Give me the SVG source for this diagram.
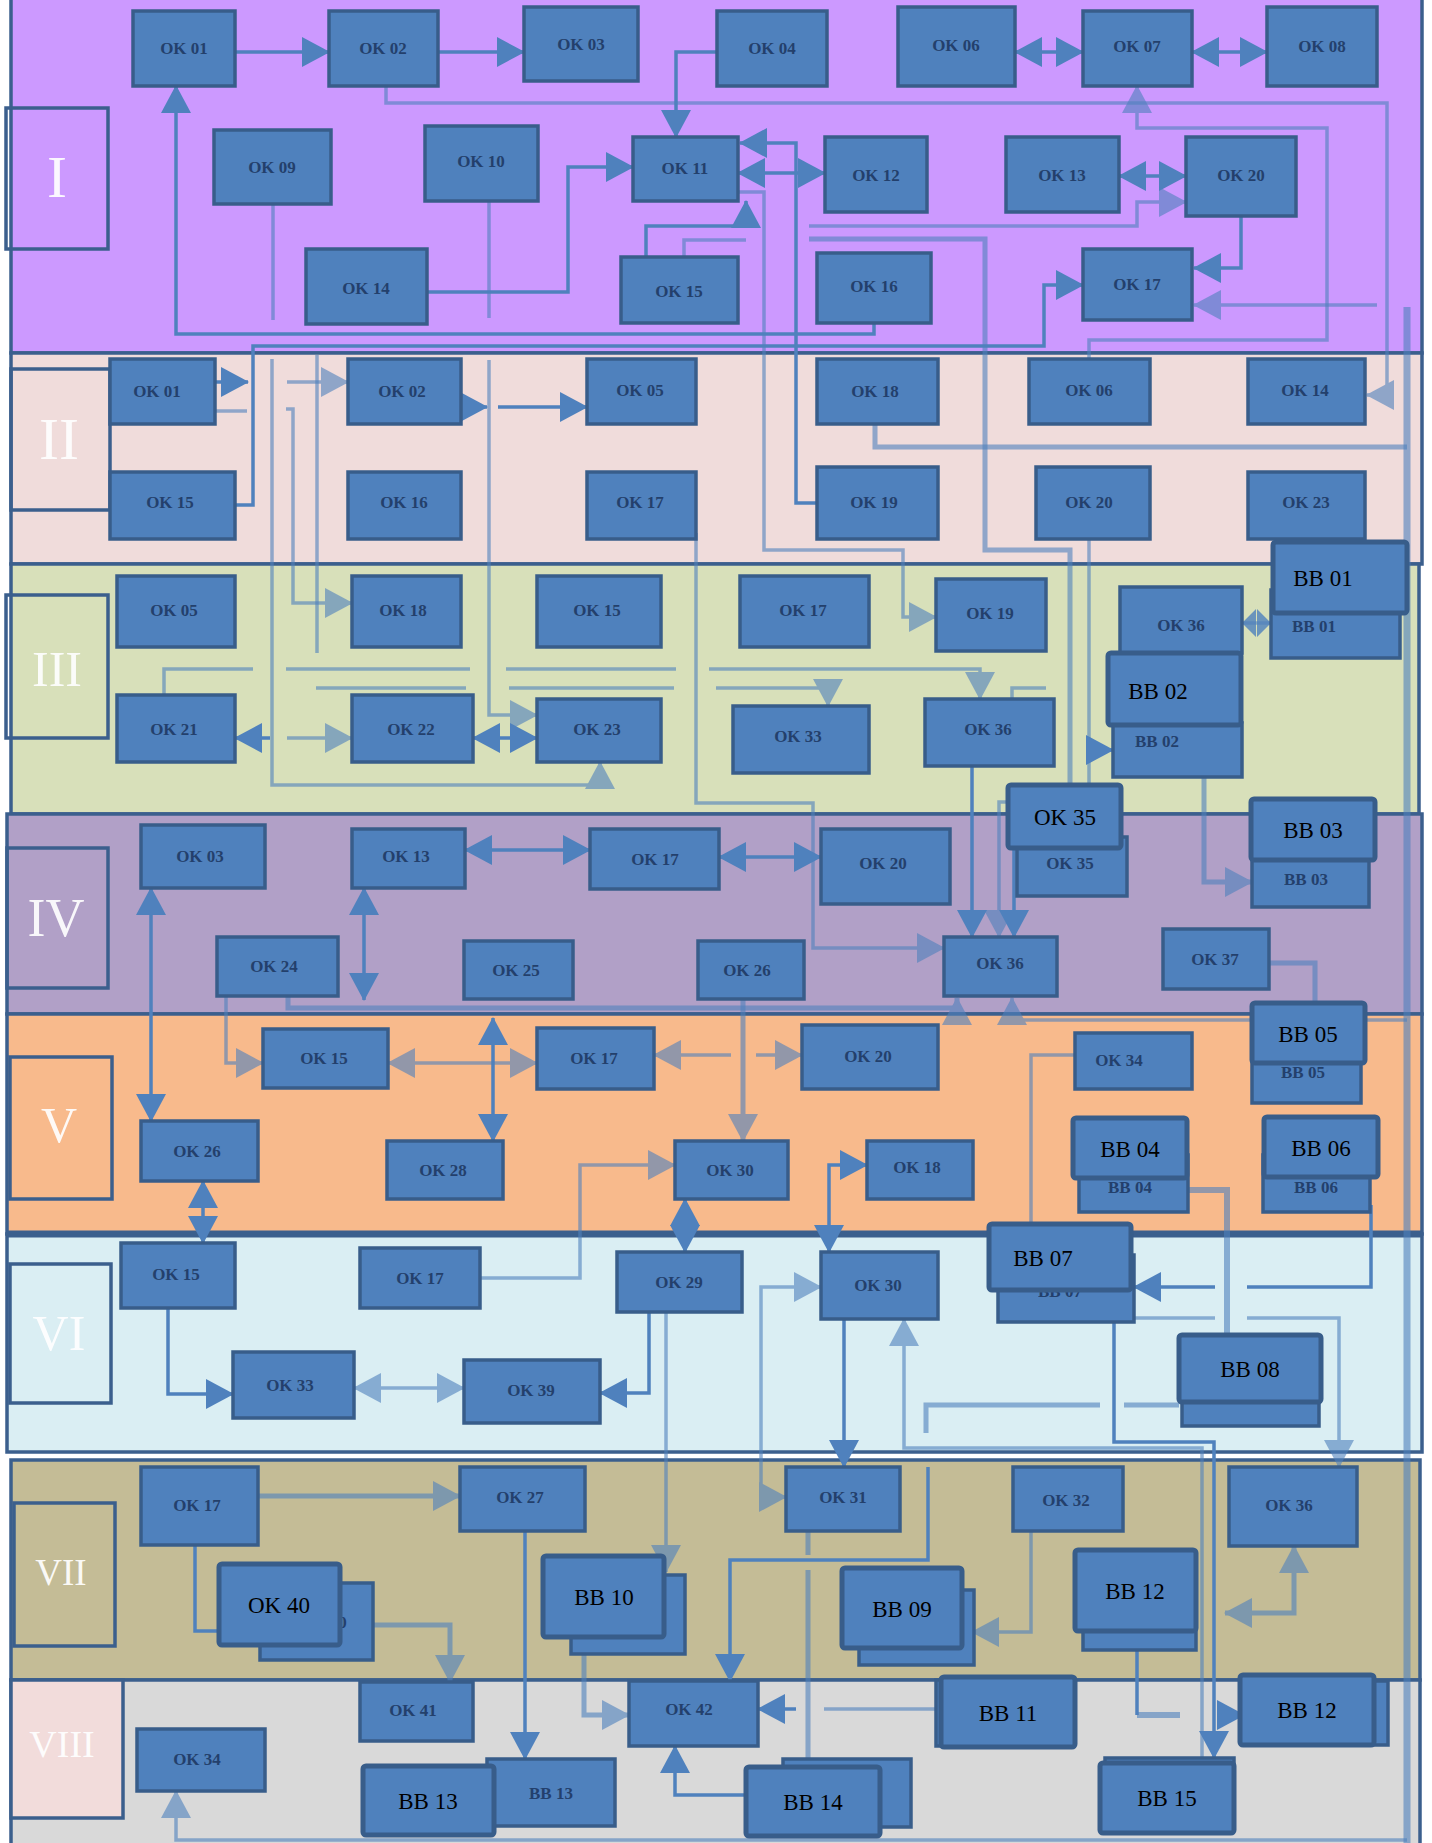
<svg xmlns="http://www.w3.org/2000/svg" width="1432" height="1843" viewBox="0 0 1432 1843">
<style>
.band{stroke:#3B5F8D;stroke-width:3.5}
.lb{fill:none;stroke:#3B5F8D;stroke-width:3.5}
.L{font-family:"Liberation Serif",serif;fill:#fff;text-anchor:middle;dominant-baseline:central;opacity:.92}
.n{fill:#4F81BD;stroke:#385D8A;stroke-width:3.5}
.b{fill:#4F81BD;stroke:#385D8A;stroke-width:5}
.t{font-family:"Liberation Serif",serif;font-size:17px;font-weight:bold;fill:#1C355E;text-anchor:middle;dominant-baseline:central;opacity:.85}
.T{font-family:"Liberation Serif",serif;font-size:23px;fill:#000;text-anchor:middle;dominant-baseline:central}
.c{fill:none;stroke:#4F81BD;stroke-width:3.5}
.l{opacity:.6}
.e{marker-end:url(#ah)}
.s{marker-start:url(#ah)}
</style>
<defs>
<marker id="ah" viewBox="0 0 28 30" refX="27" refY="15" markerWidth="28" markerHeight="30" markerUnits="userSpaceOnUse" orient="auto-start-reverse"><path d="M0,0 L28,15 L0,30 z" fill="#4F81BD"/></marker>
</defs>
<rect width="1432" height="1843" fill="#fff"/>
<g id="bands">
<rect class="band" x="11" y="-4" width="1411" height="357" fill="#CC99FF"/>
<rect class="band" x="11" y="353" width="1411" height="211" fill="#F0DCDB"/>
<rect class="band" x="11" y="564" width="1408" height="250" fill="#D8E0BA"/>
<rect class="band" x="7" y="814" width="1415" height="200" fill="#B1A0C7"/>
<rect class="band" x="7" y="1014" width="1415" height="220" fill="#F8BA8C"/>
<rect class="band" x="7" y="1234" width="1415" height="218" fill="#DAEEF3"/>
<line x1="7" y1="1234" x2="1422" y2="1234" stroke="#3B5F8D" stroke-width="7"/>
<rect class="band" x="11" y="1460" width="1409" height="220" fill="#C4BC96"/>
<rect class="band" x="11" y="1680" width="1409" height="170" fill="#D9D9D9"/>
<rect class="lb" x="6" y="108" width="102" height="141"/>
<rect class="lb" x="11" y="369" width="99" height="141"/>
<rect class="lb" x="6" y="595" width="102" height="143"/>
<rect class="lb" x="7" y="848" width="101" height="140"/>
<rect class="lb" x="10" y="1057" width="102" height="142"/>
<rect class="lb" x="10" y="1264" width="101" height="139"/>
<rect class="lb" x="14" y="1503" width="101" height="143"/>
<rect class="lb" x="11" y="1680" width="112" height="138" style="fill:#F2DCDB"/>
<text class="L" x="57" y="177" font-size="60">I</text>
<text class="L" x="59" y="439" font-size="60">II</text>
<text class="L" x="57" y="669" font-size="50">III</text>
<text class="L" x="56" y="918" font-size="54">IV</text>
<text class="L" x="59" y="1125" font-size="50">V</text>
<text class="L" x="59" y="1333" font-size="50">VI</text>
<text class="L" x="61" y="1572" font-size="37">VII</text>
<text class="L" x="62" y="1744" font-size="38">VIII</text>
</g>
<g id="connectors">
<path class="c e" d="M235,52 H329"/>
<path class="c e" d="M438,52 H524"/>
<path class="c e" d="M717,52 H676 V137"/>
<path class="c l e" d="M386,86 V103 H1387 V395 H1367"/>
<path class="c s e" d="M1015,52 H1083"/>
<path class="c s e" d="M1192,52 H1267"/>
<path class="c l e" d="M1089,359 V340 H1327 V128 H1137 V86"/>
<path class="c s e" d="M738,173 H825"/>
<path class="c e" d="M817,503 H796 V143 H740"/>
<path class="c e" d="M646,257 V226 H746 V201"/>
<path class="c l" d="M684,257 V240 H746"/>
<path class="c l e" d="M739,192 H764 V550 H903 V617 H936"/>
<path class="c e" d="M427,292 H568 V167 H633"/>
<path class="c l" d="M489,201 V318"/>
<path class="c l e" d="M489,360 V715 H537"/>
<path class="c l" d="M273,204 V320"/>
<path class="c s e" d="M1119,176 H1186"/>
<path class="c l e" d="M809,226 H1137 V202 H1186"/>
<path class="c l" d="M809,239 H985 V550 H1070 V785" style="stroke-width:5"/>
<path class="c e" d="M1241,216 V268 H1194"/>
<path class="c l e" d="M1377,305 H1194"/>
<path class="c e" d="M235,505 H253 V346 H1044 V285 H1083"/>
<path class="c e" d="M874,323 V334 H176 V86"/>
<path class="c l e" d="M272,359 V785 H600 V762"/>
<path class="c l e" d="M286,409 H293 V603 H352"/>
<path class="c l" d="M317,355 V653"/>
<path class="c l e" d="M287,382 H348"/>
<path class="c e" d="M215,382 H248"/>
<path class="c l" d="M215,411 H247"/>
<path class="c e" d="M461,407 H487"/>
<path class="c e" d="M498,407 H587"/>
<path class="c l" d="M875,424 V447 H1407" style="stroke-width:5"/>
<path class="c l e" d="M696,533 V803 H813 V948 H944"/>
<path class="c l" d="M1089,539 V785"/>
<path class="c e" d="M1089,750 H1113"/>
<path class="c l" d="M164,695 V669 H253 M286,669 H470 M506,669 H676"/>
<path class="c l e" d="M709,669 H980 V699"/>
<path class="c l" d="M316,688 H466 M509,688 H674"/>
<path class="c l e" d="M716,688 H828 V706"/>
<path class="c l" d="M1012,699 V688 H1046"/>
<path class="c l e" d="M287,738 H352"/>
<path class="c e" d="M270,738 H235"/>
<path class="c s e" d="M473,738 H537"/>
<path class="c l" d="M1242,623 H1271"/>
<path fill="#4F81BD" opacity=".8" d="M1242,623 L1256,609 L1256,637 Z M1271,623 L1257,609 L1257,637 Z"/>
<path class="c e" d="M972,766 V937"/>
<path class="c l e" d="M1008,802 H999 V937"/>
<path class="c e" d="M1014,848 V937"/>
<path class="c l e" d="M1204,777 V882 H1252" style="stroke-width:5"/>
<path class="c s e" d="M151,888 V1121"/>
<path class="c s e" d="M364,888 V1000"/>
<path class="c s e" d="M465,850 H590"/>
<path class="c s e" d="M719,857 H821"/>
<path class="c l e" d="M226,996 V1063 H263"/>
<path class="c l e" d="M288,996 V1008 H957 V998" style="stroke-width:5"/>
<path class="c l e" d="M1407,1020 H1012 V998"/>
<path class="c l" d="M1269,963 H1315 V1003" style="stroke-width:5"/>
<path class="c s e" d="M493,1018 V1141"/>
<path class="c l s e" d="M388,1063 H537"/>
<path class="c l e" d="M731,1055 H654"/>
<path class="c l e" d="M756,1055 H802"/>
<path class="c l e" d="M743,999 V1141" style="stroke-width:5"/>
<path class="c l e" d="M480,1278 H580 V1165 H675"/>
<path class="c s e" d="M685,1199 V1252"/>
<path class="c s e" d="M829,1252 V1165 H867"/>
<path class="c l" d="M1075,1055 H1031 V1224"/>
<path class="c l" d="M1188,1190 H1227 V1335" style="stroke-width:6"/>
<path class="c" d="M1371,1205 V1287 H1247"/>
<path class="c e" d="M1215,1287 H1134"/>
<path class="c l" d="M1134,1318 H1215"/>
<path class="c l e" d="M1247,1318 H1339 V1467"/>
<path class="c e" d="M1114,1322 V1442 H1214 V1758"/>
<path class="c l e" d="M1202,1758 V1448 H904 V1319"/>
<path class="c l" d="M926,1433 V1405 H1100 M1124,1405 H1179" style="stroke-width:5"/>
<path class="c e" d="M168,1308 V1394 H233"/>
<path class="c s e" d="M203,1181 V1243"/>
<path class="c l s e" d="M354,1388 H464"/>
<path class="c e" d="M649,1312 V1393 H600"/>
<path class="c l e" d="M666,1312 V1572"/>
<path class="c e" d="M844,1319 V1467"/>
<path class="c l s e" d="M786,1497 H761 V1287 H821"/>
<path class="c l" d="M808,1531 V1555 M808,1570 V1759" style="stroke-width:5"/>
<path class="c e" d="M928,1467 V1560 H730 V1681"/>
<path class="c l e" d="M258,1496 H460" style="stroke-width:5"/>
<path class="c" d="M195,1545 V1631 H219"/>
<path class="c l e" d="M373,1625 H450 V1682" style="stroke-width:5"/>
<path class="c e" d="M525,1531 V1759"/>
<path class="c l e" d="M584,1654 V1715 H629" style="stroke-width:5"/>
<path class="c e" d="M796,1709 H758"/>
<path class="c l" d="M824,1709 H938"/>
<path class="c e" d="M746,1795 H675 V1746"/>
<path class="c l e" d="M1031,1531 V1632 H972"/>
<path class="c l s e" d="M1294,1546 V1613 H1225" style="stroke-width:5"/>
<path class="c" d="M1137,1650 V1715"/>
<path class="c l" d="M1137,1715 H1180" style="stroke-width:6"/>
<path class="c e" d="M1222,1715 H1244"/>
<path class="c l" d="M1407,307 V1843" style="stroke-width:7"/>
<path class="c l e" d="M1407,1840 H176 V1791"/>
</g>
<g id="n-I-ok01"><rect class="n" x="133" y="11" width="102" height="75"/><text class="t" x="184" y="48">OK 01</text></g>
<g id="n-I-ok02"><rect class="n" x="329" y="11" width="109" height="75"/><text class="t" x="383" y="48">OK 02</text></g>
<g id="n-I-ok03"><rect class="n" x="524" y="7" width="114" height="74"/><text class="t" x="581" y="44">OK 03</text></g>
<g id="n-I-ok04"><rect class="n" x="717" y="11" width="110" height="75"/><text class="t" x="772" y="48">OK 04</text></g>
<g id="n-I-ok06"><rect class="n" x="898" y="7" width="117" height="79"/><text class="t" x="956" y="45">OK 06</text></g>
<g id="n-I-ok07"><rect class="n" x="1083" y="11" width="109" height="75"/><text class="t" x="1137" y="46">OK 07</text></g>
<g id="n-I-ok08"><rect class="n" x="1267" y="7" width="110" height="79"/><text class="t" x="1322" y="46">OK 08</text></g>
<g id="n-I-ok09"><rect class="n" x="214" y="130" width="117" height="74"/><text class="t" x="272" y="167">OK 09</text></g>
<g id="n-I-ok10"><rect class="n" x="425" y="126" width="113" height="75"/><text class="t" x="481" y="161">OK 10</text></g>
<g id="n-I-ok11"><rect class="n" x="633" y="137" width="105" height="64"/><text class="t" x="685" y="168">OK 11</text></g>
<g id="n-I-ok12"><rect class="n" x="825" y="137" width="102" height="75"/><text class="t" x="876" y="175">OK 12</text></g>
<g id="n-I-ok13"><rect class="n" x="1006" y="137" width="113" height="75"/><text class="t" x="1062" y="175">OK 13</text></g>
<g id="n-I-ok20"><rect class="n" x="1186" y="137" width="110" height="79"/><text class="t" x="1241" y="175">OK 20</text></g>
<g id="n-I-ok14"><rect class="n" x="306" y="249" width="121" height="75"/><text class="t" x="366" y="288">OK 14</text></g>
<g id="n-I-ok15"><rect class="n" x="621" y="257" width="117" height="66"/><text class="t" x="679" y="291">OK 15</text></g>
<g id="n-I-ok16"><rect class="n" x="817" y="253" width="114" height="70"/><text class="t" x="874" y="286">OK 16</text></g>
<g id="n-I-ok17"><rect class="n" x="1083" y="249" width="109" height="71"/><text class="t" x="1137" y="284">OK 17</text></g>
<g id="n-II-ok01"><rect class="n" x="110" y="359" width="105" height="65"/><text class="t" x="157" y="391">OK 01</text></g>
<g id="n-II-ok02"><rect class="n" x="348" y="359" width="113" height="65"/><text class="t" x="402" y="391">OK 02</text></g>
<g id="n-II-ok05"><rect class="n" x="587" y="359" width="109" height="65"/><text class="t" x="640" y="390">OK 05</text></g>
<g id="n-II-ok18"><rect class="n" x="817" y="359" width="121" height="65"/><text class="t" x="875" y="391">OK 18</text></g>
<g id="n-II-ok06"><rect class="n" x="1029" y="359" width="121" height="65"/><text class="t" x="1089" y="390">OK 06</text></g>
<g id="n-II-ok14"><rect class="n" x="1248" y="359" width="117" height="65"/><text class="t" x="1305" y="390">OK 14</text></g>
<g id="n-II-ok15"><rect class="n" x="110" y="472" width="125" height="67"/><text class="t" x="170" y="502">OK 15</text></g>
<g id="n-II-ok16"><rect class="n" x="348" y="472" width="113" height="67"/><text class="t" x="404" y="502">OK 16</text></g>
<g id="n-II-ok17"><rect class="n" x="587" y="472" width="109" height="67"/><text class="t" x="640" y="502">OK 17</text></g>
<g id="n-II-ok19"><rect class="n" x="817" y="467" width="121" height="72"/><text class="t" x="874" y="502">OK 19</text></g>
<g id="n-II-ok20"><rect class="n" x="1036" y="467" width="114" height="72"/><text class="t" x="1089" y="502">OK 20</text></g>
<g id="n-II-ok23"><rect class="n" x="1248" y="472" width="117" height="67"/><text class="t" x="1306" y="502">OK 23</text></g>
<g id="n-III-ok05"><rect class="n" x="117" y="576" width="118" height="71"/><text class="t" x="174" y="610">OK 05</text></g>
<g id="n-III-ok18"><rect class="n" x="352" y="576" width="109" height="71"/><text class="t" x="403" y="610">OK 18</text></g>
<g id="n-III-ok15"><rect class="n" x="537" y="576" width="124" height="71"/><text class="t" x="597" y="610">OK 15</text></g>
<g id="n-III-ok17"><rect class="n" x="740" y="576" width="129" height="71"/><text class="t" x="803" y="610">OK 17</text></g>
<g id="n-III-ok19"><rect class="n" x="936" y="579" width="110" height="72"/><text class="t" x="990" y="613">OK 19</text></g>
<g id="n-III-ok36b"><rect class="n" x="1120" y="587" width="122" height="66"/><text class="t" x="1181" y="625">OK 36</text></g>
<g id="n-III-bb01"><rect class="n" x="1271" y="590" width="129" height="68"/><text class="t" x="1314" y="626">BB 01</text><rect class="b" x="1273" y="542" width="134" height="71" rx="3"/><text class="T" x="1323" y="578">BB 01</text></g>
<g id="n-III-ok21"><rect class="n" x="117" y="695" width="118" height="67"/><text class="t" x="174" y="729">OK 21</text></g>
<g id="n-III-ok22"><rect class="n" x="352" y="695" width="121" height="67"/><text class="t" x="411" y="729">OK 22</text></g>
<g id="n-III-ok23"><rect class="n" x="537" y="699" width="124" height="63"/><text class="t" x="597" y="729">OK 23</text></g>
<g id="n-III-ok33"><rect class="n" x="733" y="706" width="136" height="67"/><text class="t" x="798" y="736">OK 33</text></g>
<g id="n-III-ok36"><rect class="n" x="925" y="699" width="129" height="67"/><text class="t" x="988" y="729">OK 36</text></g>
<g id="n-III-bb02"><rect class="n" x="1113" y="723" width="129" height="54"/><text class="t" x="1157" y="741">BB 02</text><rect class="b" x="1108" y="653" width="133" height="72" rx="3"/><text class="T" x="1158" y="691">BB 02</text></g>
<g id="n-IV-ok35"><rect class="n" x="1017" y="837" width="110" height="59"/><text class="t" x="1070" y="863">OK 35</text><rect class="b" x="1008" y="785" width="113" height="63" rx="3"/><text class="T" x="1065" y="817">OK 35</text></g>
<g id="n-IV-bb03"><rect class="n" x="1252" y="860" width="117" height="47"/><text class="t" x="1306" y="879">BB 03</text><rect class="b" x="1251" y="799" width="124" height="61" rx="3"/><text class="T" x="1313" y="830">BB 03</text></g>
<g id="n-IV-ok03"><rect class="n" x="141" y="825" width="124" height="63"/><text class="t" x="200" y="856">OK 03</text></g>
<g id="n-IV-ok13"><rect class="n" x="352" y="829" width="113" height="59"/><text class="t" x="406" y="856">OK 13</text></g>
<g id="n-IV-ok17"><rect class="n" x="590" y="829" width="129" height="60"/><text class="t" x="655" y="859">OK 17</text></g>
<g id="n-IV-ok20"><rect class="n" x="821" y="829" width="129" height="75"/><text class="t" x="883" y="863">OK 20</text></g>
<g id="n-IV-ok24"><rect class="n" x="217" y="937" width="121" height="59"/><text class="t" x="274" y="966">OK 24</text></g>
<g id="n-IV-ok25"><rect class="n" x="464" y="941" width="109" height="58"/><text class="t" x="516" y="970">OK 25</text></g>
<g id="n-IV-ok26"><rect class="n" x="698" y="941" width="106" height="58"/><text class="t" x="747" y="970">OK 26</text></g>
<g id="n-IV-ok36"><rect class="n" x="944" y="937" width="113" height="59"/><text class="t" x="1000" y="963">OK 36</text></g>
<g id="n-IV-ok37"><rect class="n" x="1163" y="929" width="106" height="60"/><text class="t" x="1215" y="959">OK 37</text></g>
<g id="n-IV-bb05"><rect class="n" x="1252" y="1040" width="109" height="63"/><text class="t" x="1303" y="1072">BB 05</text><rect class="b" x="1252" y="1003" width="113" height="60" rx="3"/><text class="T" x="1308" y="1034">BB 05</text></g>
<g id="n-V-ok15"><rect class="n" x="263" y="1029" width="125" height="59"/><text class="t" x="324" y="1058">OK 15</text></g>
<g id="n-V-ok17"><rect class="n" x="537" y="1028" width="117" height="61"/><text class="t" x="594" y="1058">OK 17</text></g>
<g id="n-V-ok20"><rect class="n" x="802" y="1025" width="136" height="64"/><text class="t" x="868" y="1056">OK 20</text></g>
<g id="n-V-ok34"><rect class="n" x="1075" y="1033" width="117" height="56"/><text class="t" x="1119" y="1060">OK 34</text></g>
<g id="n-V-ok26"><rect class="n" x="141" y="1121" width="117" height="60"/><text class="t" x="197" y="1151">OK 26</text></g>
<g id="n-V-ok28"><rect class="n" x="387" y="1141" width="116" height="58"/><text class="t" x="443" y="1170">OK 28</text></g>
<g id="n-V-ok30"><rect class="n" x="675" y="1141" width="113" height="58"/><text class="t" x="730" y="1170">OK 30</text></g>
<g id="n-V-ok18"><rect class="n" x="867" y="1141" width="106" height="58"/><text class="t" x="917" y="1167">OK 18</text></g>
<g id="n-V-bb04"><rect class="n" x="1079" y="1155" width="109" height="57"/><text class="t" x="1130" y="1187">BB 04</text><rect class="b" x="1073" y="1118" width="114" height="60" rx="3"/><text class="T" x="1130" y="1149">BB 04</text></g>
<g id="n-V-bb06"><rect class="n" x="1263" y="1155" width="107" height="57"/><text class="t" x="1316" y="1187">BB 06</text><rect class="b" x="1264" y="1117" width="114" height="60" rx="3"/><text class="T" x="1321" y="1148">BB 06</text></g>
<g id="n-VI-ok15"><rect class="n" x="121" y="1243" width="114" height="65"/><text class="t" x="176" y="1274">OK 15</text></g>
<g id="n-VI-ok17"><rect class="n" x="360" y="1248" width="120" height="60"/><text class="t" x="420" y="1278">OK 17</text></g>
<g id="n-VI-ok29"><rect class="n" x="617" y="1252" width="125" height="60"/><text class="t" x="679" y="1282">OK 29</text></g>
<g id="n-VI-ok30"><rect class="n" x="821" y="1252" width="117" height="67"/><text class="t" x="878" y="1285">OK 30</text></g>
<g id="n-VI-bb07"><rect class="n" x="998" y="1255" width="136" height="67"/><text class="t" x="1060" y="1291">BB 07</text><rect class="b" x="989" y="1224" width="142" height="66" rx="3"/><text class="T" x="1043" y="1258">BB 07</text></g>
<g id="n-VI-ok33"><rect class="n" x="233" y="1352" width="121" height="66"/><text class="t" x="290" y="1385">OK 33</text></g>
<g id="n-VI-ok39"><rect class="n" x="464" y="1360" width="136" height="63"/><text class="t" x="531" y="1390">OK 39</text></g>
<g id="n-VI-bb08"><rect class="n" x="1182" y="1370" width="137" height="56"/><rect class="b" x="1179" y="1335" width="142" height="67" rx="3"/><text class="T" x="1250" y="1369">BB 08</text></g>
<g id="n-VII-ok17"><rect class="n" x="141" y="1467" width="117" height="78"/><text class="t" x="197" y="1505">OK 17</text></g>
<g id="n-VII-ok27"><rect class="n" x="460" y="1467" width="125" height="64"/><text class="t" x="520" y="1497">OK 27</text></g>
<g id="n-VII-ok31"><rect class="n" x="786" y="1467" width="114" height="64"/><text class="t" x="843" y="1497">OK 31</text></g>
<g id="n-VII-ok32"><rect class="n" x="1013" y="1467" width="110" height="64"/><text class="t" x="1066" y="1500">OK 32</text></g>
<g id="n-VII-ok36"><rect class="n" x="1229" y="1467" width="128" height="79"/><text class="t" x="1289" y="1505">OK 36</text></g>
<g id="n-VII-ok40"><rect class="n" x="260" y="1583" width="113" height="77"/><text class="t" x="323" y="1622">OK 40</text><rect class="b" x="219" y="1564" width="121" height="81" rx="3"/><text class="T" x="279" y="1605">OK 40</text></g>
<g id="n-VII-bb10"><rect class="n" x="571" y="1575" width="114" height="79"/><rect class="b" x="543" y="1556" width="121" height="81" rx="3"/><text class="T" x="604" y="1597">BB 10</text></g>
<g id="n-VII-bb09"><rect class="n" x="859" y="1590" width="115" height="75"/><rect class="b" x="842" y="1568" width="120" height="80" rx="3"/><text class="T" x="902" y="1609">BB 09</text></g>
<g id="n-VII-bb12"><rect class="n" x="1083" y="1590" width="113" height="60"/><rect class="b" x="1075" y="1550" width="121" height="81" rx="3"/><text class="T" x="1135" y="1591">BB 12</text></g>
<g id="n-VIII-ok41"><rect class="n" x="360" y="1682" width="113" height="59"/><text class="t" x="413" y="1710">OK 41</text></g>
<g id="n-VIII-ok42"><rect class="n" x="629" y="1681" width="129" height="65"/><text class="t" x="689" y="1709">OK 42</text></g>
<g id="n-VIII-ok34"><rect class="n" x="137" y="1729" width="128" height="62"/><text class="t" x="197" y="1759">OK 34</text></g>
<g id="n-VIII-bb11"><rect class="n" x="936" y="1680" width="134" height="66"/><rect class="b" x="941" y="1677" width="134" height="70" rx="3"/><text class="T" x="1008" y="1713">BB 11</text></g>
<g id="n-VIII-bb12"><rect class="n" x="1250" y="1681" width="138" height="64"/><rect class="b" x="1240" y="1675" width="134" height="70" rx="3"/><text class="T" x="1307" y="1710">BB 12</text></g>
<g id="n-VIII-bb13"><rect class="n" x="487" y="1759" width="128" height="67"/><text class="t" x="551" y="1793">BB 13</text><rect class="b" x="363" y="1766" width="131" height="69" rx="3"/><text class="T" x="428" y="1801">BB 13</text></g>
<g id="n-VIII-bb14"><rect class="n" x="783" y="1759" width="128" height="68"/><rect class="b" x="746" y="1767" width="134" height="69" rx="3"/><text class="T" x="813" y="1802">BB 14</text></g>
<g id="n-VIII-bb15"><rect class="n" x="1105" y="1758" width="129" height="70"/><rect class="b" x="1100" y="1763" width="134" height="70" rx="3"/><text class="T" x="1167" y="1798">BB 15</text></g>
</svg>
